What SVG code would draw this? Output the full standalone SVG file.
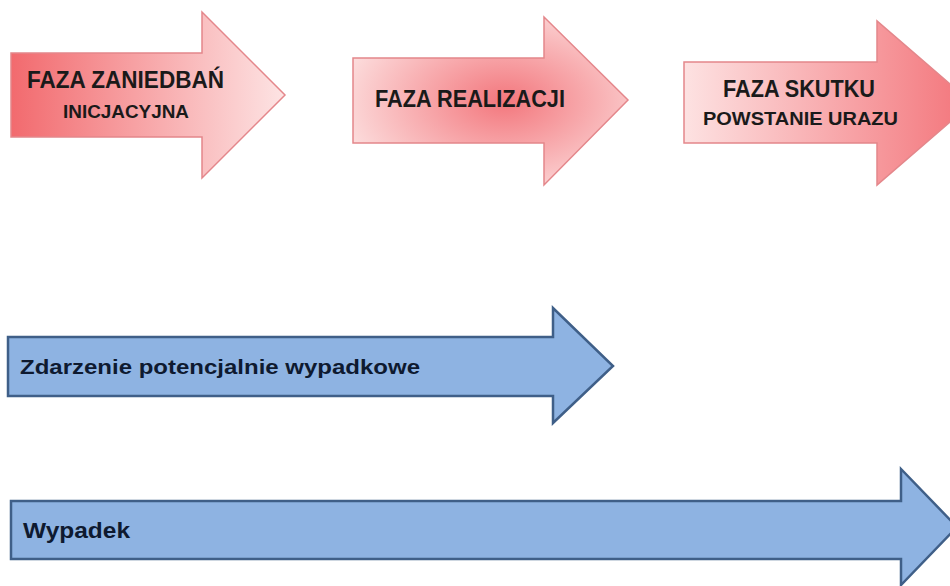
<svg xmlns="http://www.w3.org/2000/svg" width="950" height="586" viewBox="0 0 950 586">
<defs>
<linearGradient id="g1" x1="0" y1="0" x2="1" y2="0">
<stop offset="0" stop-color="#f26a6e"/>
<stop offset="1" stop-color="#fde4e4"/>
</linearGradient>
<radialGradient id="g2" cx="0.55" cy="0.5" r="0.6">
<stop offset="0" stop-color="#f3777d"/>
<stop offset="1" stop-color="#fcdcdc"/>
</radialGradient>
<linearGradient id="g3" x1="0" y1="0" x2="1" y2="0">
<stop offset="0" stop-color="#fde2e2"/>
<stop offset="1" stop-color="#f3747a"/>
</linearGradient>
<style>
.red{stroke:#e4878b;stroke-width:1.5;stroke-linejoin:miter}
.blue{fill:#8eb3e2;stroke:#3f5f88;stroke-width:2.5;stroke-linejoin:miter}
.t{font-family:"Liberation Sans",Arial,sans-serif;font-weight:bold;fill:#1a1a1a}
.tb{font-family:"Liberation Sans",Arial,sans-serif;font-weight:bold;fill:#0e1a30}
</style>
</defs>
<g id="faza-zaniedban">
<path class="red" fill="url(#g1)" d="M11,53 H202 V12 L285,95 L202,178 V137 H11 Z"/>
<text class="t" x="27" y="88" font-size="23.5" textLength="197" lengthAdjust="spacingAndGlyphs">FAZA ZANIEDBAŃ</text>
<text class="t" x="63" y="118" font-size="17.5" textLength="126" lengthAdjust="spacingAndGlyphs">INICJACYJNA</text>
</g>
<g id="faza-realizacji">
<path class="red" fill="url(#g2)" d="M353,58 H544 V17 L628,100 L544,185 V143 H353 Z"/>
<text class="t" x="375" y="107" font-size="23.5" textLength="190" lengthAdjust="spacingAndGlyphs">FAZA REALIZACJI</text>
</g>
<g id="faza-skutku">
<path class="red" fill="url(#g3)" d="M684,62 H877 V21 L972,103 L877,185 V143 H684 Z"/>
<text class="t" x="723" y="97" font-size="23.5" textLength="152" lengthAdjust="spacingAndGlyphs">FAZA SKUTKU</text>
<text class="t" x="703" y="125" font-size="19" textLength="195" lengthAdjust="spacingAndGlyphs">POWSTANIE URAZU</text>
</g>
<g id="zdarzenie">
<path class="blue" d="M8,337 H553 V308 L613,366 L553,423 V396 H8 Z"/>
<text class="tb" x="20" y="374" font-size="21" textLength="400" lengthAdjust="spacingAndGlyphs">Zdarzenie potencjalnie wypadkowe</text>
</g>
<g id="wypadek">
<path class="blue" d="M11,501 H901 V469 L957,527 L901,585 V559 H11 Z"/>
<text class="tb" x="23" y="538" font-size="21.5" textLength="107" lengthAdjust="spacingAndGlyphs">Wypadek</text>
</g>
<g id="connectors"/>
</svg>
